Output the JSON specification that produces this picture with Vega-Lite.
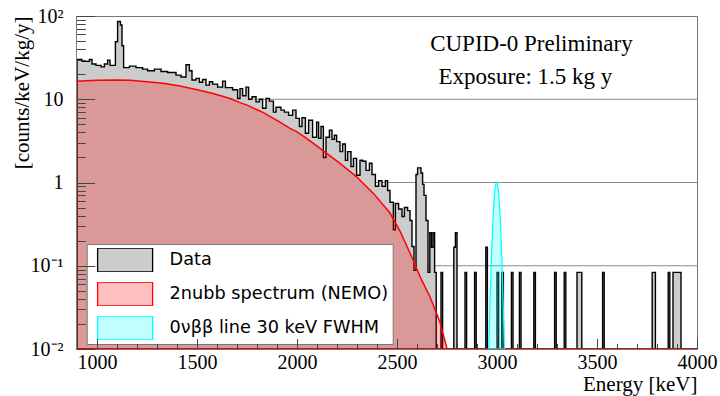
{
 "$schema": "https://vega.github.io/schema/vega-lite/v6.json",
 "width": 621, "height": 333,
 "autosize": {"type": "none"},
 "padding": {"left": 76, "top": 16, "right": 23, "bottom": 47},
 "background": "white",
 "config": {"view": {"stroke": "#777", "strokeWidth": 1}, "font": "Liberation Serif"},
 "resolve": {"axis": {"x": "independent"}},
 "datasets": {
  "grid": [{"v": 10}, {"v": 1}, {"v": 0.1}],
  "hist": [
   {"s":"Data","E":900,"v":30},{"s":"Data","E":925,"v":28.5},{"s":"Data","E":962,"v":30},{"s":"Data","E":975,"v":26.5},{"s":"Data","E":995,"v":25.5},{"s":"Data","E":1020,"v":24.5},{"s":"Data","E":1037,"v":26.5},{"s":"Data","E":1053,"v":29.5},{"s":"Data","E":1065,"v":25.5},{"s":"Data","E":1092,"v":49},{"s":"Data","E":1103,"v":86},{"s":"Data","E":1117,"v":78},{"s":"Data","E":1125,"v":44},{"s":"Data","E":1133,"v":24},{"s":"Data","E":1162,"v":25},{"s":"Data","E":1195,"v":24},{"s":"Data","E":1228,"v":23},{"s":"Data","E":1253,"v":22},{"s":"Data","E":1287,"v":23},{"s":"Data","E":1320,"v":21.5},{"s":"Data","E":1353,"v":21},{"s":"Data","E":1395,"v":19.5},{"s":"Data","E":1420,"v":18.5},{"s":"Data","E":1445,"v":26},{"s":"Data","E":1462,"v":22},{"s":"Data","E":1475,"v":17},{"s":"Data","E":1495,"v":17.8},{"s":"Data","E":1512,"v":16},{"s":"Data","E":1528,"v":17.3},{"s":"Data","E":1545,"v":14.8},{"s":"Data","E":1562,"v":16.2},{"s":"Data","E":1578,"v":15.2},{"s":"Data","E":1603,"v":14},{"s":"Data","E":1628,"v":16.5},{"s":"Data","E":1642,"v":13.8},{"s":"Data","E":1678,"v":13},{"s":"Data","E":1703,"v":10.2},{"s":"Data","E":1715,"v":13.4},{"s":"Data","E":1728,"v":11},{"s":"Data","E":1745,"v":14},{"s":"Data","E":1758,"v":10},{"s":"Data","E":1775,"v":10.7},{"s":"Data","E":1795,"v":9.3},{"s":"Data","E":1812,"v":10},{"s":"Data","E":1828,"v":7.8},{"s":"Data","E":1845,"v":10.2},{"s":"Data","E":1862,"v":9.5},{"s":"Data","E":1882,"v":7},{"s":"Data","E":1895,"v":8},{"s":"Data","E":1920,"v":7.4},{"s":"Data","E":1937,"v":7},{"s":"Data","E":1958,"v":6.4},{"s":"Data","E":1978,"v":7.4},{"s":"Data","E":1995,"v":5.9},{"s":"Data","E":2012,"v":4.7},{"s":"Data","E":2025,"v":6},{"s":"Data","E":2042,"v":3.9},{"s":"Data","E":2058,"v":5.6},{"s":"Data","E":2078,"v":3.5},{"s":"Data","E":2098,"v":5.3},{"s":"Data","E":2108,"v":3.4},{"s":"Data","E":2120,"v":4.7},{"s":"Data","E":2132,"v":2.0},{"s":"Data","E":2145,"v":3.5},{"s":"Data","E":2162,"v":4.26},{"s":"Data","E":2175,"v":3.3},{"s":"Data","E":2187,"v":3.7},{"s":"Data","E":2198,"v":3.1},{"s":"Data","E":2215,"v":2.35},{"s":"Data","E":2228,"v":2.9},{"s":"Data","E":2242,"v":1.85},{"s":"Data","E":2253,"v":2.35},{"s":"Data","E":2270,"v":1.55},{"s":"Data","E":2282,"v":1.95},{"s":"Data","E":2298,"v":1.22},{"s":"Data","E":2315,"v":1.85},{"s":"Data","E":2328,"v":1.8},{"s":"Data","E":2345,"v":1.4},{"s":"Data","E":2362,"v":1.7},{"s":"Data","E":2375,"v":1.25},{"s":"Data","E":2392,"v":0.9},{"s":"Data","E":2408,"v":1.05},{"s":"Data","E":2425,"v":0.9},{"s":"Data","E":2442,"v":1.05},{"s":"Data","E":2453,"v":0.8},{"s":"Data","E":2465,"v":0.58},{"s":"Data","E":2482,"v":0.27},{"s":"Data","E":2492,"v":0.56},{"s":"Data","E":2508,"v":0.48},{"s":"Data","E":2525,"v":0.39},{"s":"Data","E":2537,"v":0.5},{"s":"Data","E":2553,"v":0.46},{"s":"Data","E":2565,"v":0.35},{"s":"Data","E":2575,"v":0.17},{"s":"Data","E":2585,"v":0.088},{"s":"Data","E":2595,"v":1.25},{"s":"Data","E":2603,"v":1.5},{"s":"Data","E":2620,"v":1.3},{"s":"Data","E":2628,"v":0.95},{"s":"Data","E":2635,"v":0.7},{"s":"Data","E":2645,"v":0.35},{"s":"Data","E":2655,"v":0.0833},{"s":"Data","E":2664,"v":0.25},{"s":"Data","E":2672,"v":0.1667},{"s":"Data","E":2680,"v":0.25},{"s":"Data","E":2688,"v":0.0833},{"s":"Data","E":2696,"v":0.01},
   {"s":"Data","E":2720,"v":0.0833},{"s":"Data","E":2728,"v":0.01},{"s":"Data","E":2784,"v":0.1667},{"s":"Data","E":2792,"v":0.25},{"s":"Data","E":2800,"v":0.01},{"s":"Data","E":2840,"v":0.0833},{"s":"Data","E":2848,"v":0.01},{"s":"Data","E":2888,"v":0.0833},{"s":"Data","E":2896,"v":0.01},{"s":"Data","E":2944,"v":0.1667},{"s":"Data","E":2952,"v":0.01},{"s":"Data","E":3000,"v":0.0833},{"s":"Data","E":3008,"v":0.01},{"s":"Data","E":3024,"v":0.0833},{"s":"Data","E":3032,"v":0.01},{"s":"Data","E":3072,"v":0.0833},{"s":"Data","E":3080,"v":0.01},{"s":"Data","E":3112,"v":0.0833},{"s":"Data","E":3120,"v":0.01},{"s":"Data","E":3184,"v":0.0833},{"s":"Data","E":3192,"v":0.01},{"s":"Data","E":3288,"v":0.0833},{"s":"Data","E":3296,"v":0.01},{"s":"Data","E":3336,"v":0.0833},{"s":"Data","E":3344,"v":0.01},{"s":"Data","E":3400,"v":0.0833},{"s":"Data","E":3424,"v":0.01},{"s":"Data","E":3528,"v":0.0833},{"s":"Data","E":3536,"v":0.01},{"s":"Data","E":3776,"v":0.0833},{"s":"Data","E":3792,"v":0.01},{"s":"Data","E":3856,"v":0.0833},{"s":"Data","E":3864,"v":0.01},{"s":"Data","E":3880,"v":0.0833},{"s":"Data","E":3920,"v":0.01},{"s":"Data","E":4000,"v":0.01}
  ],
  "nubb": [
   {"s":"2nubb spectrum (NEMO)","E":895,"v":16.5},{"s":"2nubb spectrum (NEMO)","E":1000,"v":16.9},{"s":"2nubb spectrum (NEMO)","E":1100,"v":17.0},{"s":"2nubb spectrum (NEMO)","E":1165,"v":16.9},{"s":"2nubb spectrum (NEMO)","E":1250,"v":16.2},{"s":"2nubb spectrum (NEMO)","E":1330,"v":15.6},{"s":"2nubb spectrum (NEMO)","E":1415,"v":14.4},{"s":"2nubb spectrum (NEMO)","E":1500,"v":13.0},{"s":"2nubb spectrum (NEMO)","E":1580,"v":11.7},{"s":"2nubb spectrum (NEMO)","E":1665,"v":10.2},{"s":"2nubb spectrum (NEMO)","E":1715,"v":9.1},{"s":"2nubb spectrum (NEMO)","E":1750,"v":8.5},{"s":"2nubb spectrum (NEMO)","E":1832,"v":6.9},{"s":"2nubb spectrum (NEMO)","E":1882,"v":5.9},{"s":"2nubb spectrum (NEMO)","E":1915,"v":5.3},{"s":"2nubb spectrum (NEMO)","E":1965,"v":4.46},{"s":"2nubb spectrum (NEMO)","E":2000,"v":4.05},{"s":"2nubb spectrum (NEMO)","E":2048,"v":3.38},{"s":"2nubb spectrum (NEMO)","E":2082,"v":2.95},{"s":"2nubb spectrum (NEMO)","E":2132,"v":2.4},{"s":"2nubb spectrum (NEMO)","E":2215,"v":1.7},{"s":"2nubb spectrum (NEMO)","E":2298,"v":1.17},{"s":"2nubb spectrum (NEMO)","E":2382,"v":0.74},{"s":"2nubb spectrum (NEMO)","E":2465,"v":0.43},{"s":"2nubb spectrum (NEMO)","E":2515,"v":0.26},{"s":"2nubb spectrum (NEMO)","E":2548,"v":0.175},{"s":"2nubb spectrum (NEMO)","E":2582,"v":0.115},{"s":"2nubb spectrum (NEMO)","E":2615,"v":0.074},{"s":"2nubb spectrum (NEMO)","E":2665,"v":0.0425},{"s":"2nubb spectrum (NEMO)","E":2715,"v":0.021},{"s":"2nubb spectrum (NEMO)","E":2748,"v":0.0105},{"s":"2nubb spectrum (NEMO)","E":2752,"v":0.01},{"s":"2nubb spectrum (NEMO)","E":4000,"v":0.01}
  ],
  "gauss": [
   {"s":"0νββ line 30 keV FWHM","E":2959,"v":0.01},{"s":"0νββ line 30 keV FWHM","E":2962,"v":0.0184},{"s":"0νββ line 30 keV FWHM","E":2966,"v":0.0426},{"s":"0νββ line 30 keV FWHM","E":2970,"v":0.0894},{"s":"0νββ line 30 keV FWHM","E":2974,"v":0.170},{"s":"0νββ line 30 keV FWHM","E":2978,"v":0.292},{"s":"0νββ line 30 keV FWHM","E":2982,"v":0.454},{"s":"0νββ line 30 keV FWHM","E":2986,"v":0.642},{"s":"0νββ line 30 keV FWHM","E":2990,"v":0.821},{"s":"0νββ line 30 keV FWHM","E":2994,"v":0.952},{"s":"0νββ line 30 keV FWHM","E":2998,"v":1.0},{"s":"0νββ line 30 keV FWHM","E":3002,"v":0.952},{"s":"0νββ line 30 keV FWHM","E":3006,"v":0.821},{"s":"0νββ line 30 keV FWHM","E":3010,"v":0.642},{"s":"0νββ line 30 keV FWHM","E":3014,"v":0.454},{"s":"0νββ line 30 keV FWHM","E":3018,"v":0.292},{"s":"0νββ line 30 keV FWHM","E":3022,"v":0.170},{"s":"0νββ line 30 keV FWHM","E":3026,"v":0.0894},{"s":"0νββ line 30 keV FWHM","E":3030,"v":0.0426},{"s":"0νββ line 30 keV FWHM","E":3034,"v":0.0184},{"s":"0νββ line 30 keV FWHM","E":3037,"v":0.01}
  ],
  "notes": [
   {"t":"CUPID-0 Preliminary","E":3172,"v":45.8},
   {"t":"Exposure: 1.5 kg y","E":3142,"v":18.4}
  ]
 },
 "layer": [
  {
   "data": {"name": "grid"},
   "mark": {"type": "rule", "color": "#8a8a8a", "strokeWidth": 1},
   "encoding": {
    "y": {"field": "v", "type": "quantitative", "scale": {"type": "log", "domain": [0.01, 100], "nice": false}}
   }
  },
  {
   "data": {"name": "hist"},
   "mark": {"type": "area", "interpolate": "step-after", "clip": true, "strokeWidth": 1.4},
   "encoding": {
    "x": {"field": "E", "type": "quantitative", "scale": {"domain": [895, 4000], "nice": false, "zero": false},
     "axis": {"orient": "bottom", "values": [1000,1500,2000,2500,3000,3500,4000], "format": "d",
      "tickSize": -10.5, "tickColor": "#444", "tickWidth": 1, "domainColor": "#777", "domainWidth": 1,
      "labelFont": "Liberation Serif", "labelFontSize": 20, "labelColor": "black", "labelBaseline": "middle", "labelPadding": 24,
      "labelFlush": false, "labelOverlap": false, "grid": false,
      "title": "Energy [keV]", "titleFont": "Liberation Serif", "titleFontSize": 21, "titleFontWeight": "normal", "titleColor": "black",
      "titleAnchor": "end", "titleAlign": "right", "titleBaseline": "middle", "titleX": 621, "titleY": 35, "zindex": 1}},
    "y": {"field": "v", "type": "quantitative", "scale": {"type": "log", "domain": [0.01, 100], "nice": false},
     "axis": {"values": [0.01,0.02,0.03,0.04,0.05,0.06,0.07,0.08,0.09,0.1,0.2,0.3,0.4,0.5,0.6,0.7,0.8,0.9,1,2,3,4,5,6,7,8,9,10,20,30,40,50,60,70,80,90,100],
      "labelExpr": "abs(datum.value-100)<0.01 ? '10²' : abs(datum.value-10)<0.001 ? '10' : abs(datum.value-1)<0.0001 ? '1' : abs(datum.value-0.1)<0.00001 ? '10⁻¹' : abs(datum.value-0.01)<0.000001 ? '10⁻²' : ''",
      "tickSize": {"condition": {"test": "abs(log(datum.value)/LN10 - round(log(datum.value)/LN10)) < 0.001", "value": -18.6}, "value": -9.3},
      "tickColor": "#444", "tickWidth": 1, "domainColor": "#777", "domainWidth": 1,
      "labelFont": "Liberation Serif", "labelFontSize": 20, "labelColor": "black", "labelAlign": "right", "labelBaseline": "middle", "labelPadding": 31.6,
      "labelOverlap": false, "labelBound": false, "grid": false,
      "title": "[counts/keV/kg/y]", "titleFont": "Liberation Serif", "titleFontSize": 21, "titleFontWeight": "normal", "titleColor": "black",
      "titleAngle": 270, "titleAlign": "right", "titleBaseline": "middle", "titleX": -54, "titleY": 0, "zindex": 1}},
    "y2": {"datum": 0.01},
    "fill": {"field": "s", "type": "nominal",
     "scale": {"domain": ["Data", "2nubb spectrum (NEMO)", "0νββ line 30 keV FWHM"], "range": ["#cccccc", "rgba(255,0,0,0.25)", "rgba(0,255,255,0.25)"]},
     "legend": {"orient": "none", "legendX": 10.7, "legendY": 228, "title": null, "fillColor": "white", "strokeColor": "#777", "padding": 4,
      "symbolType": "M-1,-0.436H1V0.436H-1Z", "symbolSize": 3025, "symbolStrokeWidth": 1.3, "symbolOffset": 5.9, "symbolOpacity": 1,
      "labelOffset": 16, "clipHeight": 24, "rowPadding": 10, "labelFont": "DejaVu Sans", "labelFontSize": 17.7, "labelColor": "black", "labelLimit": 400}},
    "stroke": {"field": "s", "type": "nominal",
     "scale": {"domain": ["Data", "2nubb spectrum (NEMO)", "0νββ line 30 keV FWHM"], "range": ["#000000", "#ff0000", "#00ffff"]},
     "legend": {"orient": "none", "legendX": 10.7, "legendY": 228, "title": null, "fillColor": "white", "strokeColor": "#777", "padding": 4,
      "symbolType": "M-1,-0.436H1V0.436H-1Z", "symbolSize": 3025, "symbolStrokeWidth": 1.3, "symbolOffset": 5.9, "symbolOpacity": 1,
      "labelOffset": 16, "clipHeight": 24, "rowPadding": 10, "labelFont": "DejaVu Sans", "labelFontSize": 17.7, "labelColor": "black", "labelLimit": 400}}
   }
  },
  {
   "data": {"name": "nubb"},
   "mark": {"type": "area", "clip": true, "strokeWidth": 1.5},
   "encoding": {
    "x": {"field": "E", "type": "quantitative", "scale": {"domain": [895, 4000], "nice": false, "zero": false}, "axis": null},
    "y": {"field": "v", "type": "quantitative", "scale": {"type": "log", "domain": [0.01, 100], "nice": false}},
    "y2": {"datum": 0.01},
    "fill": {"field": "s", "type": "nominal"},
    "stroke": {"field": "s", "type": "nominal"}
   }
  },
  {
   "data": {"name": "gauss"},
   "mark": {"type": "area", "clip": true, "strokeWidth": 1.2},
   "encoding": {
    "x": {"field": "E", "type": "quantitative", "scale": {"domain": [895, 4000], "nice": false, "zero": false}, "axis": null},
    "y": {"field": "v", "type": "quantitative", "scale": {"type": "log", "domain": [0.01, 100], "nice": false}},
    "y2": {"datum": 0.01},
    "fill": {"field": "s", "type": "nominal"},
    "stroke": {"field": "s", "type": "nominal"}
   }
  },
  {
   "data": {"name": "notes"},
   "mark": {"type": "text", "font": "Liberation Serif", "fontSize": 23, "color": "black", "align": "center", "baseline": "middle"},
   "encoding": {
    "x": {"field": "E", "type": "quantitative", "scale": {"domain": [895, 4000], "nice": false, "zero": false},
     "axis": {"orient": "bottom", "values": [900,1100,1200,1300,1400,1600,1700,1800,1900,2100,2200,2300,2400,2600,2700,2800,2900,3100,3200,3300,3400,3600,3700,3800,3900],
      "labels": false, "domain": false, "tickSize": -5.5, "tickColor": "#444", "tickWidth": 1, "title": null, "grid": false, "zindex": 1}},
    "y": {"field": "v", "type": "quantitative", "scale": {"type": "log", "domain": [0.01, 100], "nice": false}},
    "text": {"field": "t"}
   }
  }
 ]
}
